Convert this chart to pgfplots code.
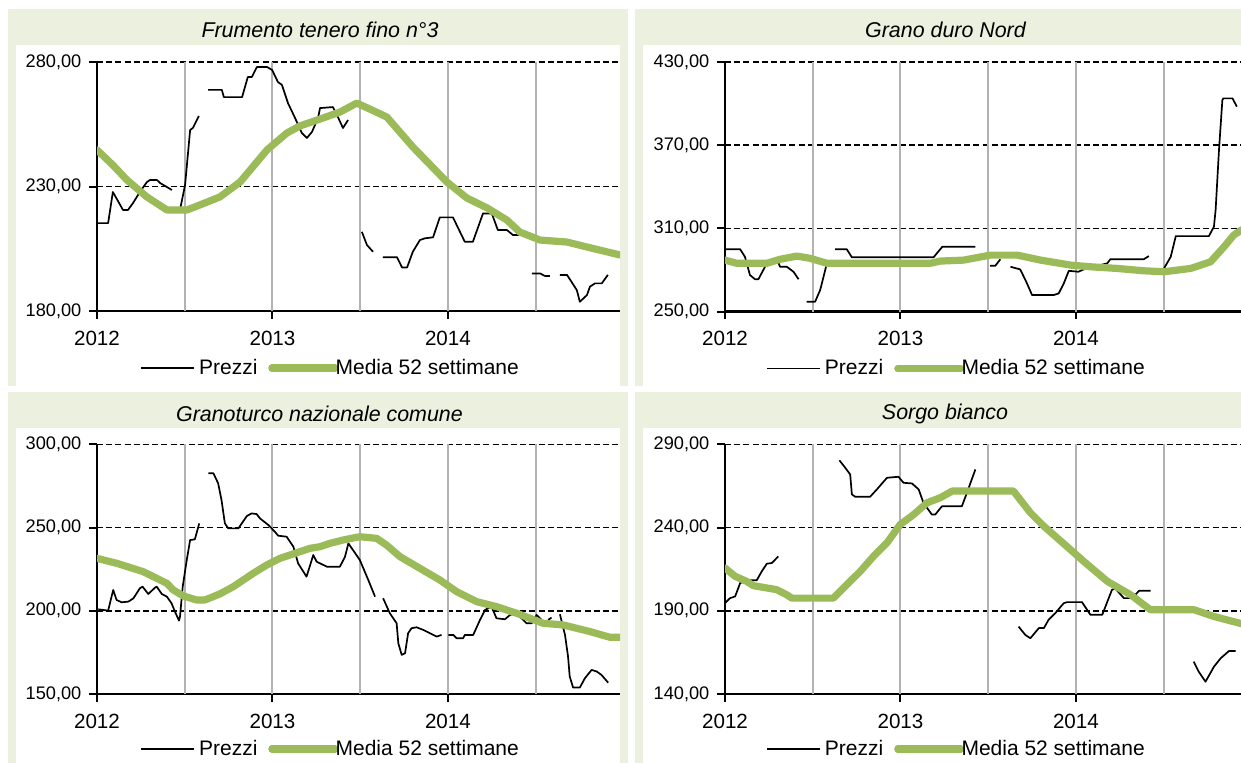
\documentclass[border=0pt]{standalone}
\usepackage{fontspec}
\setmainfont{Liberation Sans}
\usepackage{pgfplots}
\pgfplotsset{compat=1.18}
\definecolor{mediagreen}{RGB}{155,187,89}
\definecolor{bgG}{RGB}{235,241,222}
\pgfplotsset{
 panel/.style={
  scale only axis, width=261.5pt,
  xmin=0, xmax=155, clip=true,
  axis x line*=bottom, axis y line*=left,
  axis line style={-, line width=1.3pt, black},
  every outer x axis line/.append style={-},
  every outer y axis line/.append style={-},
  tick align=outside,
  major tick length=3.8pt,
  tick style={black, line width=1pt},
  xtick={0,52,104}, xticklabels={2012,2013,2014},
  extra x ticks={26,52,78,104,130},
  extra x tick labels={},
  extra x tick style={xmajorgrids=true, major tick length=0pt, major grid style={draw=black!30, line width=1pt, solid}},
  ymajorgrids=true,
  major grid style={black, line width=0.75pt, dash pattern=on 3pt off 1.6pt},
  xticklabel style={font=\fontsize{10.3}{12}\selectfont, yshift=-2.5pt},
  yticklabel style={font=\fontsize{9.1}{11}\selectfont, xshift=-0.5pt},
  every axis title/.style={anchor=center, font=\fontsize{10.7}{12}\selectfont\itshape},
  legend columns=2,
  legend style={draw=none, fill=none, font=\fontsize{10.5}{12}\selectfont, anchor=west,
     /tikz/every even column/.append style={column sep=3.5pt}},
  unbounded coords=jump,
 },
 prezzi/.style={black, line width=0.85pt, line join=round,
   legend image code/.code={\path (0pt,0pt) -- (26.5pt,0pt); \draw[black, line width=0.85pt] (0pt,0pt) -- (25pt,0pt);}},
 media/.style={color=mediagreen, line width=3.6pt, line join=round, line cap=round,
   legend image code/.code={\path (0pt,0pt) -- (28pt,0pt); \draw[overlay, mediagreen, line width=3.6pt, line cap=round] (0pt,0pt) -- (31.5pt,0pt);}},
}
\begin{document}
\begin{tikzpicture}
\useasboundingbox (0,0) rectangle (620.5pt,-381pt);
% panel backgrounds
\fill[bgG] (4pt,-4.5pt) rectangle (314pt,-192.85pt);
\fill[white] (8pt,-22.5pt) rectangle (310pt,-192.85pt);
\fill[bgG] (317.5pt,-4.5pt) rectangle (640pt,-192.85pt);
\fill[white] (321.5pt,-22.5pt) rectangle (640pt,-192.85pt);
\fill[bgG] (4pt,-195.85pt) rectangle (314pt,-390pt);
\fill[white] (8pt,-213.85pt) rectangle (310pt,-390pt);
\fill[bgG] (317.5pt,-195.85pt) rectangle (640pt,-390pt);
\fill[white] (321.5pt,-213.85pt) rectangle (640pt,-390pt);

% ---------- Panel 1 ----------
\begin{axis}[panel, at={(48.5pt,-155.5pt)}, anchor=south west, height=124.5pt,
  ymin=180, ymax=280, ytick={180,230,280}, yticklabels={{180,00},{230,00},{280,00}},
  title={Frumento tenero fino n°3}, title style={at={(axis description cs:0.4264,1.1285)}},
  legend style={at={(axis description cs:0.0707,-0.229)}}]
\addplot[prezzi] coordinates {
(0,215.3)(3.3,215.3)(4.7,227.8)(7.7,220.6)(9.2,220.6)(10.7,223.4)(12.7,227.8)(14.8,231.8)(15.7,232.6)(17.8,232.6)(18.7,231.4)(20.7,229.8)(22.2,228.6)
(23.4,nan)
(24.6,220.6)(26.1,230.6)(27.6,252.7)(28.4,253.5)(30.2,258.3)
(31.5,nan)
(32.9,268.8)(37.0,268.8)(37.6,265.9)(43.0,265.9)(44.7,274.0)(45.9,274.0)(47.4,278.0)(50.4,278.0)(51.9,276.8)(53.6,272.0)(54.8,270.8)(56.6,263.5)(58.7,257.5)(60.7,251.5)(62.2,249.5)(63.7,251.9)(65.5,257.5)(66.1,261.5)(69.9,261.9)(71.4,257.9)(72.9,253.5)(74.4,256.7)
(76,nan)
(78.5,211.8)(80.0,206.5)(81.8,203.8)
(83,nan)
(84.7,201.6)(88.9,201.6)(90.4,197.5)(91.9,197.5)(93.6,203.8)(95.7,208.5)(97.2,209.2)(99.6,209.6)(101.6,217.6)(105.5,217.6)(109.0,207.8)(111.4,207.8)(114.4,219.2)(117.0,219.2)(118.8,212.5)(121.5,212.5)(123.3,210.5)(125,210.5)
(127,nan)
(128.9,195.1)(131.3,195.1)(132.7,194.1)(134.2,194.1)
(135.5,nan)
(137.2,194.5)(139.3,194.5)(142.2,188.4)(143.1,183.7)(145.2,186.4)(146.1,189.8)(147.6,191.1)(149.6,191.1)(151.4,194.5)
};
\addlegendentry{Prezzi}
\addplot[media] coordinates {
(0,244.7)(4.7,238.6)(8.9,232.6)(14.8,225.8)(20.7,220.6)(26.7,220.6)(30.5,222.6)(36.4,225.8)(42.4,231.8)(50.4,244.7)(56.3,251.5)(60.1,254.3)(66.1,257.1)(72.0,259.9)(77.0,263.5)(81.5,260.7)(85.9,257.9)(93.6,245.9)(103.7,231.8)(109.6,225.4)(115.6,221.4)(121.5,216.5)(125.3,211.7)(131.3,208.5)(139.3,207.7)(145.2,205.7)(155.0,202.5)
};
\addlegendentry{Media 52 settimane}
\end{axis}

% ---------- Panel 2 ----------
\begin{axis}[panel, at={(362.5pt,-155.85pt)}, anchor=south west, height=124.85pt,
  ymin=250, ymax=430, ytick={250,310,370,430}, yticklabels={{250,00},{310,00},{370,00},{430,00}},
  title={Grano duro Nord}, title style={at={(axis description cs:0.4216,1.128)}},
  legend style={at={(axis description cs:0.0667,-0.228)}}]
\addplot[prezzi] coordinates {
(0,295.0)(4.5,295.0)(5.9,289.6)(7.4,276.4)(8.9,273.4)(9.9,273.4)(12.4,284.9)(15.3,288.5)(16.3,282.4)(18.3,282.4)(20.3,278.8)(21.8,273.4)
(23,nan)
(24.2,257.2)(26.7,257.2)(28.2,265.6)(30.2,284.9)
(31.4,nan)
(32.6,295.0)(36.1,295.0)(37.6,289.2)(61.8,289.2)(64.4,296.8)(74.2,296.8)
(76,nan)
(78.6,283.1)(80.1,283.1)(81.6,287.8)
(83,nan)
(84.6,282.4)(87.5,280.5)(89.5,270.4)(91.0,262.0)(97.4,262.0)(98.9,263.2)(100.4,270.4)(101.9,279.5)(104.7,278.8)(106.3,280.5)(113.3,284.9)(114.2,287.8)(124.1,287.8)(125.6,290.1)
(128,nan)
(130.1,281.2)(132.1,289.6)(133.6,304.5)(143.4,304.5)(144.9,311.3)(145.4,323.3)(146.4,366.6)(147.4,402.6)(147.7,403.8)(150.4,403.8)(151.7,397.8)
};
\addlegendentry{Prezzi}
\addplot[media] coordinates {
(0,287.2)(3.5,284.9)(12.4,284.9)(16.3,287.8)(21.3,290.1)(25.2,288.5)(30.2,284.9)(60.8,284.9)(63.8,286.5)(70.7,287.2)(78.6,290.8)(86.6,290.8)(93.5,287.2)(102.4,283.6)(108.3,282.4)(116.2,281.2)(124.1,279.5)(130.1,278.8)(138.0,281.2)(143.9,286.0)(147.9,296.8)(150.8,305.3)(153.1,308.9)(155,311)
};
\addlegendentry{Media 52 settimane}
\end{axis}

% ---------- Panel 3 ----------
\begin{axis}[panel, at={(48.5pt,-347pt)}, anchor=south west, height=124.85pt,
  ymin=150, ymax=300, ytick={150,200,250,300}, yticklabels={{150,00},{200,00},{250,00},{300,00}},
  title={Granoturco nazionale comune}, title style={at={(axis description cs:0.4254,1.1234)}},
  legend style={at={(axis description cs:0.0707,-0.22)}}]
\addplot[prezzi] coordinates {
(0.4,200.9)(3.3,200.1)(4.8,212.5)(5.8,206.5)(7.3,205.1)(9.3,205.5)(10.8,207.5)(12.7,213.5)(13.5,214.5)(15.2,210.1)(17.2,213.9)(17.7,214.5)(19.2,210.1)(20.7,208.5)(22.1,204.5)(23.1,199.5)(24.3,194.1)(24.6,196.5)(25.4,214.5)(26.6,230.5)(27.6,242.5)(29.0,242.9)(30.3,252.5)
(31.5,nan)
(33.0,282.6)(34.5,282.6)(35.9,276.6)(36.9,266.5)(37.9,252.5)(38.9,249.5)(41.9,249.5)(44.4,256.9)(45.8,258.5)(47.3,258.1)(48.3,255.5)(50.8,251.5)(52.7,247.5)(53.7,245.1)(56.2,244.5)(58.2,238.5)(59.6,228.5)(62.1,220.5)(64.1,233.5)(65.1,229.5)(68.1,226.5)(72.0,226.5)(73.5,232.5)(74.5,240.5)(77.9,230.5)(80.4,218.5)(82.4,208.5)
(83.5,nan)
(84.8,207.5)(86.8,198.5)(88.8,192.5)(89.3,180.5)(90.3,173.5)(91.3,174.5)(92.2,186.5)(93.2,189.5)(94.7,190.1)(96.7,188.5)(98.7,186.5)(100.7,184.5)(102.1,185.5)
(103,nan)
(104.1,185.5)(105.6,185.5)(106.6,183.5)(108.5,183.5)(109.0,185.5)(111.5,185.5)(113.5,194.5)(115.0,200.5)(116.9,202.5)(118.4,195.5)(120.9,194.9)(122.4,197.5)(123.9,198.5)(125.3,196.5)(127.3,192.5)(128.8,192.5)(130.3,197.5)(131.8,194.5)
(132.8,nan)
(133.7,194.5)(134.7,195.9)
(136,nan)
(137.2,197.9)(138.7,185.5)(139.6,172.5)(140.1,160.5)(141.1,153.9)(143.1,153.9)(144.6,159.5)(146.6,164.5)(148.1,163.5)(149.5,161.5)(151.5,156.8)
};
\addlegendentry{Prezzi}
\addplot[media] coordinates {
(0,231.5)(5.9,228.5)(13.7,223.5)(17.7,219.5)(20.7,216.5)(22.6,212.5)(25.6,208.9)(29.5,206.5)(32.0,206.5)(36.4,210.1)(40.4,214.5)(46.3,222.5)(50.3,227.5)(54.2,231.5)(60.1,235.5)(63.1,237.5)(66.1,238.5)(69.0,240.5)(72.9,242.5)(77.9,244.5)(82.9,243.5)(85.8,239.5)(89.8,232.5)(95.7,225.5)(101.6,218.5)(106.6,211.5)(112.5,205.5)(118.4,202.5)(124.4,198.5)(132.2,192.5)(138.2,191.5)(146.1,187.5)(152.0,184.1)(155.0,184.1)
};
\addlegendentry{Media 52 settimane}
\end{axis}

% ---------- Panel 4 ----------
\begin{axis}[panel, at={(362.5pt,-347pt)}, anchor=south west, height=124.85pt,
  ymin=140, ymax=290, ytick={140,190,240,290}, yticklabels={{140,00},{190,00},{240,00},{290,00}},
  title={Sorgo bianco}, title style={at={(axis description cs:0.4207,1.1234)}},
  legend style={at={(axis description cs:0.0667,-0.22)}}]
\addplot[prezzi] coordinates {
(0,194.6)(1.5,197.6)(3.0,198.6)(4.5,206.7)(6.9,208.3)(9.4,208.3)(10.9,213.7)(12.4,218.3)(13.9,218.7)(15.8,222.7)
(17,nan)
(33.9,280.4)(35.6,276.0)(37.1,271.9)(37.6,259.9)(38.6,258.5)(43.0,258.5)(45.0,262.9)(48.0,269.9)(51.4,270.5)(52.9,266.9)(55.4,266.5)(57.4,262.9)(58.8,254.9)(61.3,247.8)(62.3,247.8)(64.3,252.8)(70.2,252.8)(71.7,260.9)(74.2,274.9)
(76,nan)
(87.0,180.5)(89.0,175.5)(90.5,173.5)(93.0,179.6)(94.5,179.6)(95.9,184.6)(97.9,188.6)(100.4,194.6)(101.4,195.2)(105.8,195.2)(108.3,187.6)(111.8,187.6)(114.7,202.7)(115.7,203.3)(118.2,197.6)(120.7,197.6)(122.7,202.0)(126.1,202.0)
(130,nan)
(138.9,159.5)(140.4,153.4)(142.4,147.4)(144.9,156.4)(146.9,161.5)(149.4,165.9)(151.3,165.9)
};
\addlegendentry{Prezzi}
\addplot[media] coordinates {
(0,215.7)(3.0,210.7)(6.4,207.7)(8.4,205.1)(12.4,203.7)(15.3,202.7)(18.3,199.6)(19.8,197.6)(32.1,197.6)(36.1,205.7)(40.1,213.7)(44.0,222.7)(48.0,230.8)(51.9,241.8)(55.9,247.8)(59.9,254.9)(63.8,257.9)(67.3,261.9)(85.5,261.9)(90.5,248.9)(94.5,240.8)(102.4,226.7)(106.3,219.7)(113.3,207.7)(120.2,199.6)(126.1,190.6)(139.0,190.6)(144.9,186.6)(153.1,182.2)(155,181.5)
};
\addlegendentry{Media 52 settimane}
\end{axis}
\end{tikzpicture}
\end{document}
